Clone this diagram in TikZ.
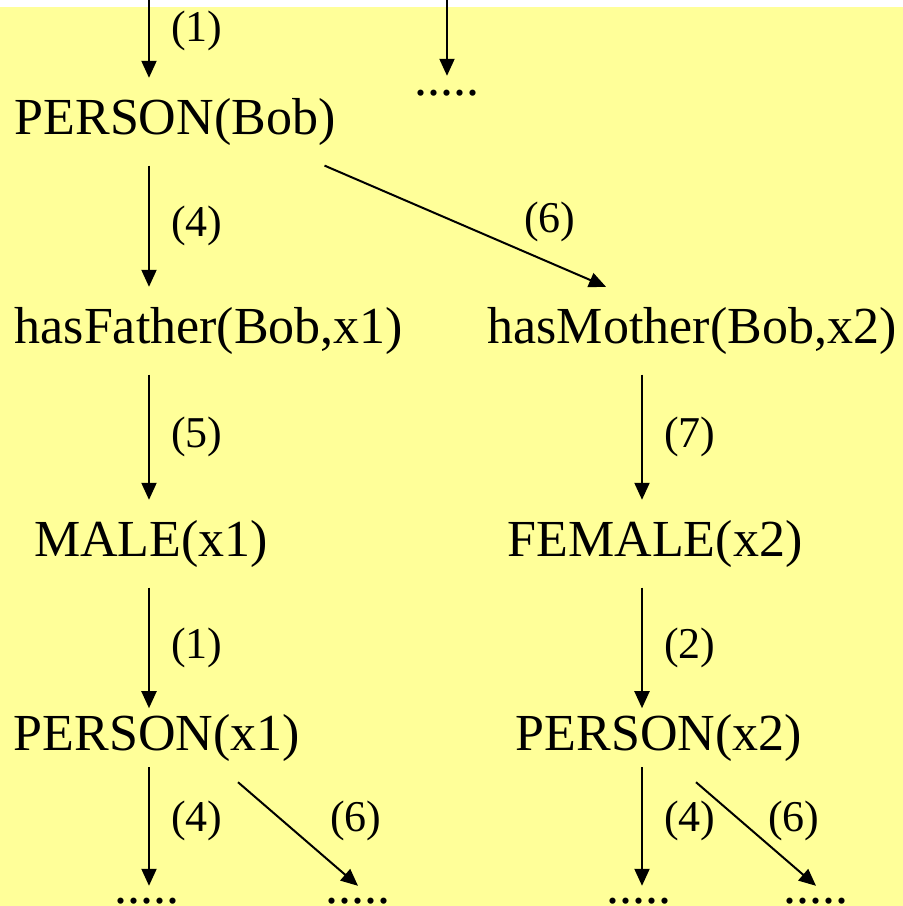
\documentclass[tikz,border=0pt]{standalone}
\usepackage{fontspec}
\setmainfont{Liberation Serif}
\usetikzlibrary{arrows.meta,positioning}
\definecolor{slideyellow}{RGB}{255,255,153}

\begin{document}
\begin{tikzpicture}[x=1pt, y=-1pt,
    atom/.style={anchor=base, inner xsep=0pt, inner ysep=20pt,
                 text height=36pt, text depth=11.4pt,
                 font=\fontsize{52}{60}\selectfont},
    near/.style={inner ysep=5.6pt},
    more/.style={anchor=base, inner xsep=0pt, inner ysep=14pt,
                 text height=5pt, text depth=0pt,
                 font=\fontsize{52}{60}\selectfont},
    rule/.style={font=\fontsize{44}{50}\selectfont, inner sep=0pt},
    infer/.style={-{Triangle[length=17pt,width=15pt]}, line width=2pt}]
    \fill[white] (0,0) rectangle (903,906);
    \fill[slideyellow] (0,7) rectangle (903,906);
    \useasboundingbox (0,0) rectangle (903,906);

    \coordinate (inL) at (149,0);
    \coordinate (inM) at (447,0);
    \coordinate (rcol) at (642,0);

    \node[atom] (bob) at (175,134) {PERSON(Bob)};
    \node[more] (top) at (447,95) {.....};
    \node[atom] (fa) at (209,343) {hasFather(Bob,x1)};
    \node[atom] (mo) at (692,343) {hasMother(Bob,x2)};
    \node[atom] (male) at (151,556) {MALE(x1)};
    \node[atom] (female) at (655,556) {FEMALE(x2)};
    \node[atom, near] (px1) at (157,750) {PERSON(x1)};
    \node[atom, near] (px2) at (659,750) {PERSON(x2)};
    \node[more, inner ysep=12.5pt] (d1) at (147,903.5) {.....};
    \node[more, inner ysep=12.5pt] (d2) at (358,903.5) {.....};
    \node[more, inner ysep=12.5pt] (d3) at (639,903.5) {.....};
    \node[more, inner ysep=12.5pt] (d4) at (816,903.5) {.....};

    \draw[infer] (inL) -- node[rule, pos=0.4, right=21pt] (r1) {(1)} (bob.north -| inL);
    \draw[infer] (inM) -- (top.north);
    \draw[infer] (bob.south -| inL) -- node[rule, right=21pt] (r4) {(4)} (fa.north -| inL);
    \draw[infer] ([shift={(-11,0)}]bob.south east)
        -- node[rule, pos=0.8, above=20pt] (r6) {(6)} ([shift={(-86,0)}]mo.north);
    \draw[infer] (fa.south -| inL) -- node[rule, right=21pt] (r5) {(5)} (male.north -| inL);
    \draw[infer] (mo.south -| rcol) -- node[rule, right=21pt] (r7) {(7)} (female.north -| rcol);
    \draw[infer] (male.south -| inL) -- node[rule, right=21pt] (r1x) {(1)} (px1.north -| inL);
    \draw[infer] (female.south -| rcol) -- node[rule, right=21pt] (r2x) {(2)} (px2.north -| rcol);
    \draw[infer] (px1.south -| inL) -- node[rule, pos=0.45, right=21pt] (r4x) {(4)} (d1.north -| inL);
    \draw[infer] ([shift={(81,15)}]px1.south)
        -- node[rule, pos=0.375, right=46pt] (r6x) {(6)} (d2.north);
    \draw[infer] (px2.south -| rcol) -- node[rule, pos=0.45, right=21pt] (r4y) {(4)} (d3.north -| rcol);
    \draw[infer] ([shift={(37,15)}]px2.south)
        -- node[rule, pos=0.375, right=26pt] (r6y) {(6)} (d4.north);
\end{tikzpicture}
\end{document}
